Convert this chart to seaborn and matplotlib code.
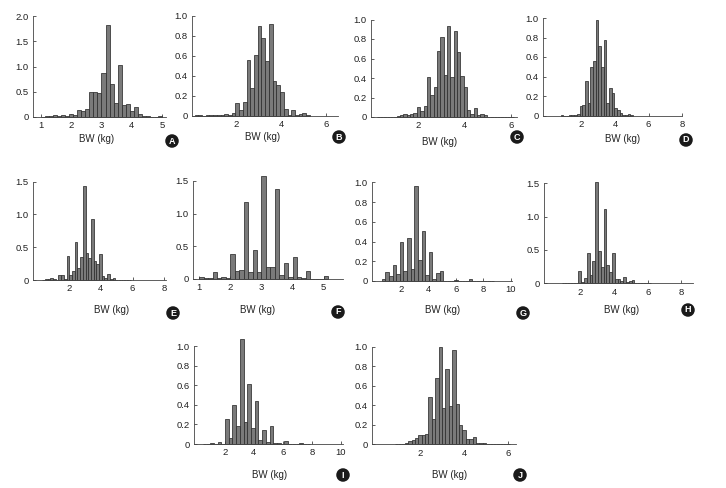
import numpy as np
import pandas as pd
import matplotlib
matplotlib.use("Agg")
import matplotlib.pyplot as plt
import seaborn as sns

# ===============================
# bar heights (density), bins = start + k*width
# ===============================
a_start, a_width = 1.0, 0.1333
a_heights = [0.005, 0.01, 0.02, 0.03, 0.02, 0.04, 0.02, 0.06, 0.04, 0.14, 0.12, 0.15,
             0.50, 0.50, 0.48, 0.88, 1.82, 0.65, 0.28, 1.02, 0.24, 0.26, 0.12, 0.19,
             0.06, 0.01, 0.02, 0.005, 0.0, 0.01]

b_start, b_width = 0.117, 0.1667
b_heights = [0.005, 0.005, 0.0, 0.005, 0.005, 0.005, 0.005, 0.01, 0.02, 0.01, 0.03, 0.13,
             0.06, 0.14, 0.56, 0.28, 0.61, 0.90, 0.78, 0.55, 0.92, 0.35, 0.31, 0.24,
             0.07, 0.01, 0.06, 0.01, 0.02, 0.03, 0.005]

c_start, c_width = 0.247, 0.1429
c_heights = [0.003, 0.003, 0.005, 0.005, 0.005, 0.005, 0.01, 0.02, 0.03, 0.02, 0.03, 0.04,
             0.10, 0.06, 0.11, 0.41, 0.23, 0.31, 0.68, 0.82, 0.43, 0.93, 0.41, 0.88,
             0.67, 0.42, 0.31, 0.07, 0.03, 0.09, 0.02, 0.03, 0.02, 0.005, 0.003, 0.003,
             0.003, 0.003, 0.003, 0.003, 0.005]

d_start, d_width = 0.76, 0.16
d_heights = [0.005, 0.0, 0.0, 0.01, 0.01, 0.01, 0.02, 0.10, 0.11, 0.35, 0.13, 0.50,
             0.56, 0.98, 0.71, 0.50, 0.77, 0.13, 0.28, 0.23, 0.08, 0.06, 0.03, 0.01,
             0.01, 0.02, 0.005]

e_start, e_width = 0.32, 0.17
e_heights = [0.005, 0.01, 0.01, 0.035, 0.02, 0.005, 0.08, 0.07, 0.01, 0.37, 0.07, 0.13,
             0.58, 0.18, 0.35, 1.43, 0.41, 0.33, 0.93, 0.29, 0.24, 0.39, 0.06, 0.03,
             0.09, 0.01, 0.03, 0.005, 0.003, 0.0, 0.003, 0.0, 0.003]

f_start, f_width = 1.0, 1 / 7
f_heights = [0.03, 0.01, 0.02, 0.10, 0.01, 0.03, 0.01, 0.39, 0.12, 0.145, 1.18, 0.10,
             0.45, 0.10, 1.58, 0.18, 0.18, 1.38, 0.06, 0.24, 0.03, 0.33, 0.03, 0.01,
             0.12, 0.0, 0.0, 0.0, 0.05]

g_start, g_width = 0.585, 0.265
g_heights = [0.02, 0.09, 0.05, 0.16, 0.07, 0.40, 0.10, 0.44, 0.12, 0.96, 0.21, 0.51,
             0.06, 0.29, 0.02, 0.085, 0.10, 0.0, 0.005, 0.005, 0.01, 0.005, 0.005, 0.0,
             0.02, 0.0, 0.0, 0.0, 0.005, 0.0, 0.005]

h_start, h_width = 0.875, 0.1667
h_heights = [0.005, 0.0, 0.0, 0.01, 0.005, 0.005, 0.18, 0.02, 0.085, 0.45, 0.12, 0.33,
             1.52, 0.485, 0.245, 1.12, 0.28, 0.17, 0.455, 0.06, 0.06, 0.03, 0.095, 0.02,
             0.04, 0.05, 0.005, 0.0, 0.0, 0.0, 0.0, 0.005]

i_start, i_width = 0.48, 0.256
i_heights = [0.003, 0.0, 0.015, 0.0, 0.025, 0.005, 0.26, 0.065, 0.40, 0.18, 1.07, 0.22,
             0.61, 0.16, 0.44, 0.04, 0.14, 0.02, 0.18, 0.01, 0.015, 0.005, 0.035, 0.0,
             0.005, 0.0, 0.01, 0.0, 0.005]

j_start, j_width = 0.836, 0.154
j_heights = [0.005, 0.005, 0.003, 0.015, 0.03, 0.045, 0.065, 0.092, 0.10, 0.11, 0.48, 0.256,
             0.68, 1.0, 0.37, 0.77, 0.39, 0.97, 0.41, 0.20, 0.143, 0.05, 0.055, 0.07,
             0.01, 0.015, 0.01, 0.003, 0.0, 0.0, 0.0, 0.0, 0.0, 0.003]

letters = ["A", "B", "C", "D", "E", "F", "G", "H", "I", "J"]
x_label = "BW (kg)"

# x/y ticks per panel
xticks = [[1, 2, 3, 4, 5], [2, 4, 6], [2, 4, 6], [2, 4, 6, 8], [2, 4, 6, 8],
          [1, 2, 3, 4, 5], [2, 4, 6, 8, 10], [2, 4, 6, 8], [2, 4, 6, 8, 10], [2, 4, 6]]
y_02 = [0, 0.2, 0.4, 0.6, 0.8, 1.0]
y_05 = [0, 0.5, 1.0, 1.5]
yticks = [[0, 0.5, 1.0, 1.5, 2.0], y_02, y_02, y_02, y_05, y_05, y_02, y_05, y_02, y_02]
xlims = [(0.75, 5.12), (0.0, 6.55), (0.0, 6.25), (-0.3, 8.0), (-0.26, 8.1),
         (0.8, 5.62), (-0.12, 10.1), (-0.18, 8.7), (-0.12, 10.15), (-0.19, 6.35)]

panels = [(a_start, a_width, a_heights), (b_start, b_width, b_heights),
          (c_start, c_width, c_heights), (d_start, d_width, d_heights),
          (e_start, e_width, e_heights), (f_start, f_width, f_heights),
          (g_start, g_width, g_heights), (h_start, h_width, h_heights),
          (i_start, i_width, i_heights), (j_start, j_width, j_heights)]

# ===============================
# layout in pixels: left, right, top (highest tick), bottom (baseline)
# ===============================
W, H = 726, 488
boxes = [(33, 166, 16, 117), (192, 338, 16, 116), (371, 517, 19.5, 117), (543, 682, 18, 115.5),
         (33, 166, 181.7, 280), (193, 343, 181, 279), (372, 512, 182.3, 281), (544, 693, 183.3, 283.3),
         (194, 343, 346, 444), (372, 516, 346.7, 444.3)]
xlabel_pos = [(97, 139), (263, 137), (440, 142), (623, 139), (112, 310), (258, 310),
              (443, 310), (622, 310), (270, 475), (450, 475)]
letter_pos = [(172, 141), (339, 137), (517, 137), (686, 140), (173, 313), (338, 312),
              (523, 313), (688, 310), (343, 475), (520, 475)]

sns.set_style("ticks")
plt.rcParams['font.family'] = ['Liberation Sans', 'DejaVu Sans']

fig = plt.figure(figsize=(W / 100, H / 100), dpi=100)
fig.patch.set_facecolor("white")

for k, (start, width, heights) in enumerate(panels):
    l, r, t, b = boxes[k]
    ax = fig.add_axes([l / W, 1 - b / H, (r - l) / W, (b - t) / H])
    edges = [start + width * n for n in range(len(heights) + 1)]
    df = pd.DataFrame({"bw": [e + width / 2 for e in edges[:-1]], "density": heights})
    sns.histplot(data=df, x="bw", weights="density", bins=edges, ax=ax, stat="count",
                 color="#7a7a7a", edgecolor="#2e2e2e", linewidth=0.55, alpha=1)
    for p in ax.patches:
        p.set_clip_on(False)

    ax.set_xlim(*xlims[k])
    ax.set_ylim(0, yticks[k][-1])
    ax.set_xticks(xticks[k])
    ax.set_xticklabels([f"{v:g}" for v in xticks[k]])
    ax.set_yticks(yticks[k])
    ax.set_yticklabels(["0" if v == 0 else f"{v:.1f}" for v in yticks[k]])
    ax.set_ylabel("")
    ax.tick_params(direction="in", length=2.5, width=0.6, labelsize=6.8,
                   colors="#444444", labelcolor="#222222", pad=3.2)
    sns.despine(ax=ax)
    for s in ["left", "bottom"]:
        ax.spines[s].set_linewidth(0.6)
        ax.spines[s].set_color("#444444")
    ax.set_facecolor("none")

    ax.set_xlabel(x_label, fontsize=7, color="#222222", va="center")
    lx, ly = xlabel_pos[k]
    ax.xaxis.set_label_coords(lx / W, 1 - ly / H, transform=fig.transFigure)

    cx, cy = letter_pos[k]
    fig.text(cx / W, 1 - cy / H, letters[k], ha="center", va="center", color="white",
             fontsize=6.5, fontweight="bold",
             bbox=dict(boxstyle="circle,pad=0.25", fc="#1a1a1a", ec="none"))

fig.savefig("out.png", dpi=100, facecolor="white")
